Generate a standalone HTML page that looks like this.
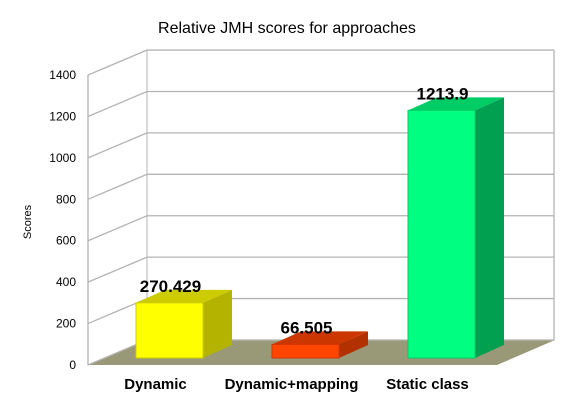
<!DOCTYPE html>
<html><head><meta charset="utf-8"><style>
body{margin:0;background:#fff;}
svg{font-family:"Liberation Sans",sans-serif;display:block}
</style></head><body>
<svg id="c" width="567" height="403" viewBox="0 0 567 403">
<text x="287" y="33" text-anchor="middle" font-size="16" fill="#000">Relative JMH scores for approaches</text>
<text transform="translate(31,222) rotate(-90)" text-anchor="middle" font-size="11" fill="#000">Scores</text>
<g id="grid"></g><g id="bars"></g>
</svg>
<script>
const categories=["Dynamic","Dynamic+mapping","Static class"];
const values=[270.429,66.505,1213.9];
const valueLabels=["270.429","66.505","1213.9"];
const ticks=[0,200,400,600,800,1000,1200,1400];
const NS="http://www.w3.org/2000/svg";
function el(t,a,p){const e=document.createElementNS(NS,t);for(const k in a)e.setAttribute(k,a[k]);p.appendChild(e);return e;}
const yA=v=>365-v*0.2071, yB=v=>358-v*0.204, DX=59, DY=-25;
const g=document.getElementById('grid'), b=document.getElementById('bars');
// back wall & side
let w=el('polygon',{points:`88,${yA(1400)} ${88+DX},${yA(1400)+DY} ${88+DX},${yA(0)+DY} 88,${yA(0)}`,fill:'#fff',stroke:'#b3b3b3'},g);

let fl=el('polygon',{points:`88,365 147,340 555,340 497,365`,fill:'#999977'},g);

ticks.forEach(t=>{
 const y=yA(t);
 let l=el('polyline',{points:`88,${y} ${88+DX},${y+DY} 554,${y+DY}`,fill:'none',stroke:'#b3b3b3','stroke-width':1.3},g);
 
 let tx=el('text',{x:76,y:y+4,'text-anchor':'end','font-size':12},g);tx.textContent=t;
 
});
let bw=el('line',{x1:554,y1:yA(1400)+DY,x2:554,y2:340,stroke:'#b3b3b3','stroke-width':1.3},g);

let ax=el('line',{x1:88,y1:yA(1400),x2:88,y2:365,stroke:'#b3b3b3','stroke-width':1.3},g);

const cols=[["#ffff00","#b3b300","#cccc00"],["#ff4500","#b33000","#cc3700"],["#00ff80","#00a050","#00cc66"]];
const bd=29,bdy=-13,W=67;
values.forEach((v,i)=>{
 const x=136+i*136, top=yB(v), bot=358;
 const grp=el('g',{},b);
 
 
 el('polygon',{points:`${x+W},${top} ${x+W+bd},${top+bdy} ${x+W+bd},${bot+bdy} ${x+W},${bot}`,fill:cols[i][1]},grp);
 el('polygon',{points:`${x},${top} ${x+bd},${top+bdy} ${x+W+bd},${top+bdy} ${x+W},${top}`,fill:cols[i][2]},grp);
 el('rect',{x:x,y:top,width:W,height:bot-top,fill:cols[i][0],stroke:cols[i][2],'stroke-width':1},grp);
 let lb=el('text',{x:x+W/2+1,y:top-11,'text-anchor':'middle','font-size':17,'font-weight':'bold'},b);lb.textContent=valueLabels[i];
 
 let cl=el('text',{x:x+W/2-14,y:389,'text-anchor':'middle','font-size':15,'font-weight':'bold'},b);cl.textContent=categories[i];
 
});
</script>
</body></html>
